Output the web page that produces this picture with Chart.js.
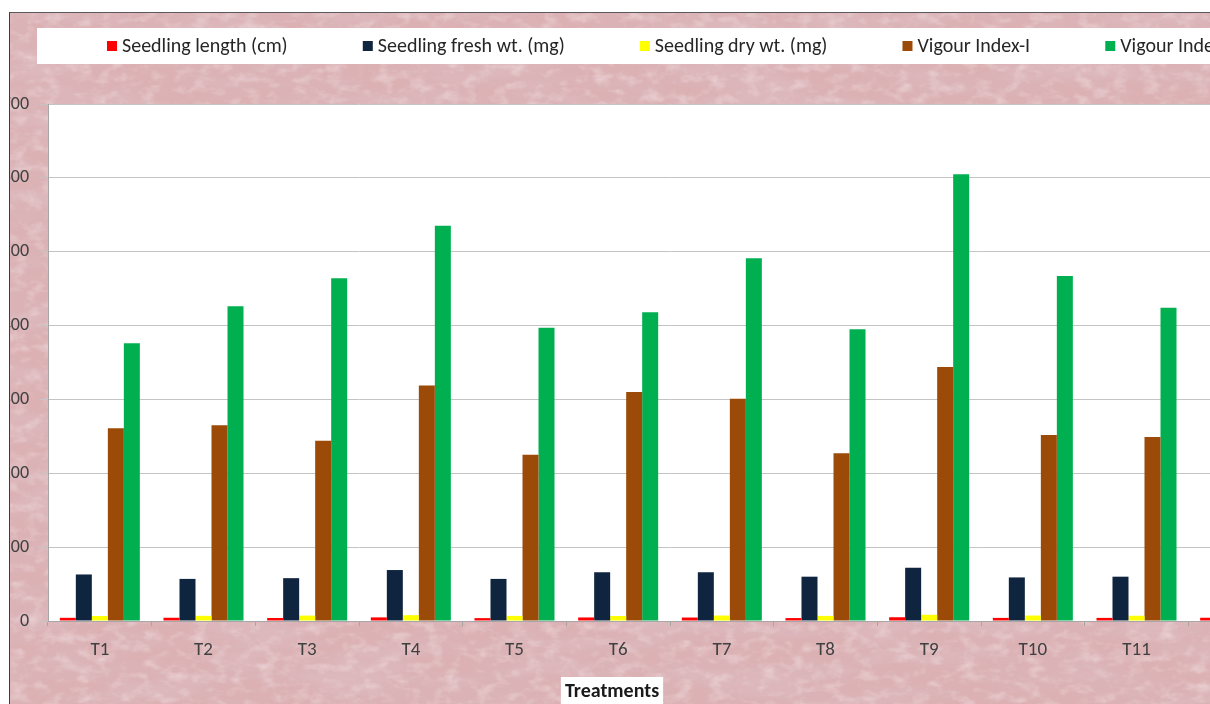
<!DOCTYPE html>
<html>
<head>
<meta charset="utf-8">
<title>Seedling parameters by treatment</title>
<script src="https://cdn.jsdelivr.net/npm/chart.js@4.4.0/dist/chart.umd.min.js"></script>
<style>
  html, body { margin: 0; padding: 0; background: #ffffff; width: 1210px; height: 704px; overflow: hidden; }
  #frame {
    position: absolute; left: 9px; top: 12px; width: 1260px; height: 720px;
    border-left: 1px solid #3c3c3c; border-top: 1px solid #5a5a5a;
    overflow: hidden; background: #dbb1b4;
  }
  #texture { position: absolute; left: 0; top: 0; }
  #chartBox { position: absolute; left: -10px; top: -13px; }
</style>
</head>
<body>
<div id="frame">
  <svg id="texture" width="1260" height="720" xmlns="http://www.w3.org/2000/svg">
    <filter id="mottle" x="0" y="0" width="100%" height="100%">
      <feTurbulence type="fractalNoise" baseFrequency="0.010 0.04" numOctaves="4" seed="7"/>
      <feColorMatrix type="matrix" values="0 0 0 0 0.72  0 0 0 0 0.52  0 0 0 0 0.55  1.3 0 0 0 -0.52"/>
    </filter>
    <filter id="speckle" x="0" y="0" width="100%" height="100%">
      <feTurbulence type="fractalNoise" baseFrequency="0.06 0.10" numOctaves="3" seed="19"/>
      <feColorMatrix type="matrix" values="0 0 0 0 0.95  0 0 0 0 0.85  0 0 0 0 0.86  1.0 0 0 0 -0.47"/>
    </filter>
    <rect width="1260" height="720" filter="url(#mottle)"/>
    <rect width="1260" height="720" filter="url(#speckle)"/>
  </svg>
  <canvas id="chartBox" width="1345" height="704"></canvas>
</div>
<script>
// Treatments on the category axis
const categories = ['T1', 'T2', 'T3', 'T4', 'T5', 'T6', 'T7', 'T8', 'T9', 'T10', 'T11', 'T12'];

// Measured parameters per treatment
const seedlingLength = [4.3, 4.4, 4.1, 4.9, 3.9, 4.8, 4.7, 4.0, 5.1, 4.2, 4.2, 4.4];
const seedlingFreshWt = [63, 57, 58, 69, 57, 66, 66, 60, 72, 59, 60, 58];
const seedlingDryWt = [6.8, 7.0, 7.3, 7.9, 6.9, 6.8, 7.4, 6.9, 8.4, 7.4, 7.1, 7.0];
const vigourIndexI = [261, 265, 244, 319, 225, 310, 301, 227, 344, 252, 249, 246];
const vigourIndexII = [376, 426, 464, 535, 397, 418, 491, 395, 605, 467, 424, 412];

// Series names and value axis range
const seriesNames = ['Seedling length (cm)', 'Seedling fresh wt. (mg)', 'Seedling dry wt. (mg)', 'Vigour Index-I', 'Vigour Index-II'];
const yMin = 0;
const yMax = 700;
const yStep = 100;
const xAxisTitle = 'Treatments';

const FONT = 'Carlito, Calibri, Lato, "Open Sans", sans-serif';
const seriesColors = ['#ff0000', '#0f243e', '#ffff00', '#9c4a08', '#00b050'];
const seriesData = [seedlingLength, seedlingFreshWt, seedlingDryWt, vigourIndexI, vigourIndexII];

// White plot background
const plotBackground = {
  id: 'plotBackground',
  beforeDraw(chart) {
    const { ctx, chartArea: a } = chart;
    ctx.save();
    ctx.fillStyle = '#ffffff';
    ctx.fillRect(a.left, a.top, a.right - a.left, a.bottom - a.top);
    ctx.restore();
  }
};

// Legend in a white band, items spread evenly across it
const boxLegend = {
  id: 'boxLegend',
  afterDraw(chart, args, o) {
    const { ctx, width } = chart;
    ctx.save();
    ctx.fillStyle = '#ffffff';
    ctx.fillRect(o.inset, o.top, width - 2 * o.inset, o.height);
    ctx.font = o.fontSize + 'px ' + FONT;
    ctx.textBaseline = 'middle';
    const items = chart.data.datasets.map(ds => ({
      text: ds.label, color: ds.backgroundColor, w: ctx.measureText(ds.label).width
    }));
    const left = o.inset + o.sidePad;
    const right = width - o.inset - o.sidePad;
    const used = items.reduce((s, it) => s + o.box + o.boxGap + it.w, 0);
    const gap = (right - left - used) / (items.length - 1);
    const cy = o.top + o.height / 2;
    let x = left;
    items.forEach(it => {
      ctx.fillStyle = it.color;
      ctx.fillRect(x, cy - o.box / 2, o.box, o.box);
      ctx.fillStyle = o.color;
      ctx.fillText(it.text, x + o.box + o.boxGap, cy + 1);
      x += o.box + o.boxGap + it.w + gap;
    });
    ctx.restore();
  }
};

// Category axis caption on its own white label box
const axisCaption = {
  id: 'axisCaption',
  afterDraw(chart, args, o) {
    const { ctx } = chart;
    ctx.save();
    ctx.font = 'bold ' + o.fontSize + 'px ' + FONT;
    const w = ctx.measureText(o.text).width;
    ctx.fillStyle = '#ffffff';
    ctx.fillRect(o.centerX - w / 2 - o.pad, o.top, w + 2 * o.pad, 60);
    ctx.fillStyle = o.color;
    ctx.textAlign = 'center';
    ctx.textBaseline = 'middle';
    ctx.fillText(o.text, o.centerX, o.textY);
    ctx.restore();
  }
};

new Chart(document.getElementById('chartBox'), {
  type: 'bar',
  data: {
    labels: categories,
    datasets: seriesNames.map((name, i) => ({
      label: name,
      data: seriesData[i],
      backgroundColor: seriesColors[i],
      borderWidth: 0,
      barPercentage: 1,
      categoryPercentage: 0.772
    }))
  },
  options: {
    responsive: false,
    animation: false,
    events: [],
    layout: { padding: { left: 1, right: 53, top: 104, bottom: 0 } },
    plugins: {
      legend: { display: false },
      tooltip: { enabled: false },
      boxLegend: { inset: 37, top: 28, height: 36, sidePad: 70, box: 10, boxGap: 5, fontSize: 20, color: '#262626' },
      axisCaption: { text: xAxisTitle, centerX: 612, top: 677, textY: 692, pad: 4, fontSize: 20, color: '#1a1a1a' }
    },
    scales: {
      x: {
        afterFit: axis => { axis.height = 83; },
        grid: { display: true, drawOnChartArea: false, drawTicks: true, tickLength: 5, color: '#a6a6a6', offset: true },
        border: { display: true, color: '#a6a6a6', width: 1 },
        ticks: { font: { family: FONT, size: 19 }, color: '#404040', padding: 13, maxRotation: 0, autoSkip: false }
      },
      y: {
        min: yMin, max: yMax,
        afterFit: axis => { axis.width = 47; },
        grid: { color: '#c4c4c4', lineWidth: 1, tickLength: 8 },
        border: { display: true, color: '#a6a6a6', width: 1 },
        ticks: { stepSize: yStep, font: { family: FONT, size: 18 }, color: '#404040', padding: 11 }
      }
    }
  },
  plugins: [plotBackground, boxLegend, axisCaption]
});
</script>
</body>
</html>
